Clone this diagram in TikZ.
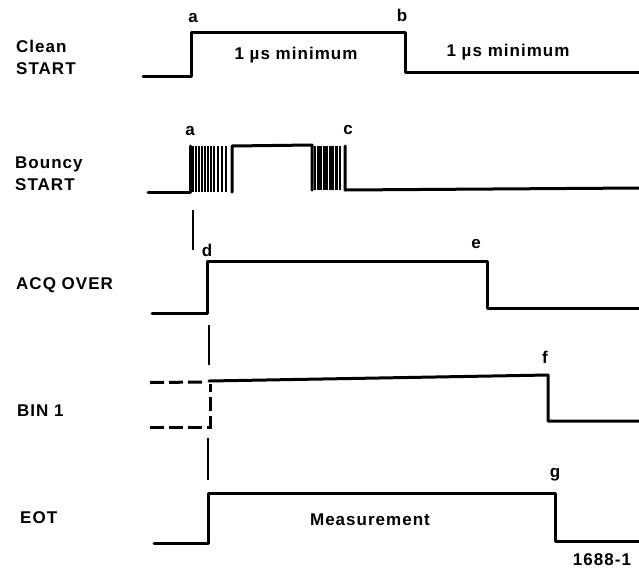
\documentclass[tikz,border=0pt]{standalone}
\usepackage{fontspec}
\setmainfont[LetterSpace=6]{Liberation Sans}
\begin{document}
\begin{tikzpicture}[x=1pt,y=-1pt, every node/.style={font=\bfseries\fontsize{17}{22}\selectfont,inner sep=0pt},
  sig/.style={line width=3pt,line join=round,line cap=round}, thinsig/.style={line width=1.9pt},
  bar/.style={line width=2.3pt}, dsig/.style={line width=3pt,dash pattern=on 14pt off 5pt},
  lab/.style={align=left,anchor=west}]
  \useasboundingbox (0,0) rectangle (639,571);
  % Signal names
  \node[lab] (clean) at (16,57) {Clean\\START};
  \node[lab] (bouncy) at (15,173.5) {Bouncy\\START};
  \node[lab] (acq) at (16,285) {ACQ OVER};
  \node[lab] (bin) at (17,411) {BIN 1};
  \node[lab] (eot) at (20,518) {EOT};
  % Clean START
  \draw[sig] (143,76) -- (191,76) -- (191,32) -- (405,32) -- (405,72) -- (639,72);
  \node (a1) at (193,18) {a};
  \node (b1) at (402,15) {b};
  \node (min1) at (296,55) {1 \textmu s minimum};
  \node (min2) at (508,52) {1 \textmu s minimum};
  % Bouncy START
  \draw[sig] (148,192) -- (190,192) -- (190,146);
  \foreach \x in {193,196,...,214,218,222,226} \draw[bar] (\x,146) -- (\x,192);
  \draw[sig] (232,192) -- (232,146) -- (312,145) -- (312,190);
  \foreach \x in {315,318.5,321,324.5,327,330.5,333,336.5,340} \draw[bar] (\x,146) -- (\x,190);
  \draw[sig] (345,146) -- (345,190) -- (639,188);
  \node (a2) at (190,131) {a};
  \node (c2) at (348,130) {c};
  \draw[thinsig] (193,210) -- (193,250);
  % ACQ OVER
  \draw[sig] (152,313) -- (207,313) -- (207,261) -- (487,261) -- (487,308) -- (639,308);
  \node (d3) at (207,250) {d};
  \node (e3) at (476,244) {e};
  \draw[thinsig] (209,325) -- (209,365);
  % BIN 1
  \draw[dsig] (150,382.5) -- (206,382);
  \draw[dsig] (150,427) -- (210,427) -- (210,384);
  \draw[sig] (209,381) -- (548,375) -- (548,421) -- (639,421);
  \node (f4) at (545,357) {f};
  \draw[thinsig] (208,438) -- (208,480);
  % EOT
  \draw[sig] (154,543) -- (208,543) -- (208,493) -- (555,493) -- (555,541) -- (639,541);
  \node (g5) at (555,475) {g};
  \node (meas) at (370,520) {Measurement};
  \node (fig) at (602,560) {1688-1};
\end{tikzpicture}
\end{document}
